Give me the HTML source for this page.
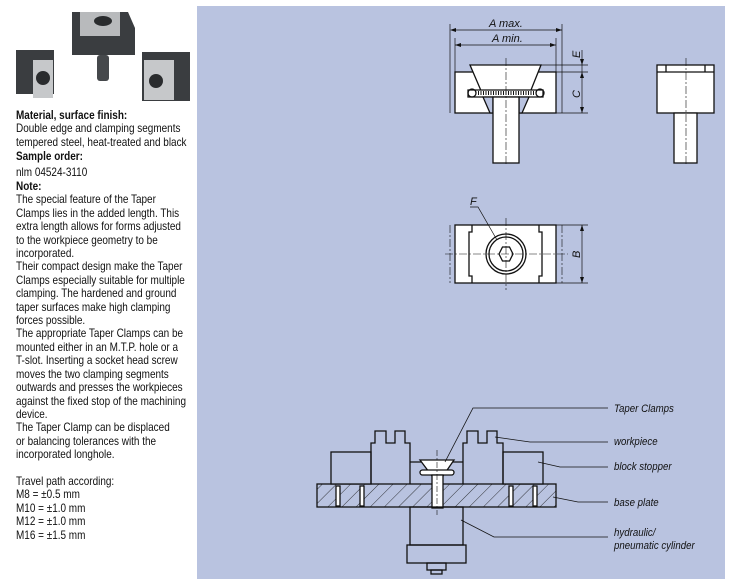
<!DOCTYPE html>
<html><head><meta charset="utf-8"><style>
body{margin:0;width:730px;height:579px;background:#fff;position:relative;overflow:hidden;font-family:"Liberation Sans",sans-serif;font-size:12px;color:#111}
.t{position:absolute;left:16px;line-height:13.4px;white-space:nowrap;transform:scaleX(0.83);transform-origin:0 0}
b{font-weight:bold}
#panel{position:absolute;left:197px;top:6px;width:528px;height:573px;background:#b9c3e0}
svg{position:absolute;left:0;top:0}
</style></head><body>
<div id="panel"></div>
<svg width="730" height="579" viewBox="0 0 730 579">
<g>
<polygon points="72,12 128,12 135,28 135,55 72,55" fill="#3a3d40"/>
<rect x="80" y="12" width="40" height="24" fill="#b8babc"/>
<ellipse cx="103" cy="21" rx="9" ry="5" fill="#2a2c2e"/>
<rect x="97" y="55" width="12" height="26" rx="3" fill="#45484b"/>
<rect x="16" y="50" width="38" height="44" fill="#3a3d40"/>
<rect x="33" y="60" width="20" height="38" fill="#c6c8ca"/>
<circle cx="43" cy="78" r="7" fill="#2a2c2e"/>
<rect x="142" y="52" width="48" height="49" fill="#3a3d40"/>
<rect x="144" y="60" width="30" height="40" fill="#c6c8ca"/>
<circle cx="156" cy="81" r="7" fill="#2a2c2e"/>
</g>
<g fill="none" stroke="#111" stroke-width="1.3">
<rect x="455" y="72" width="101" height="41" fill="#fff"/>
<polygon points="470,65 541,65 527,100 485,100" fill="#fff"/>
<polygon points="468,90 543,90 543,97 468,97" fill="#fff"/>
<circle cx="472" cy="93" r="4"/><circle cx="540" cy="93" r="4"/>
<line x1="478" y1="93" x2="534" y2="93" stroke-dasharray="1,1.5" stroke-width="4"/>
<polygon points="483,97 490,113 493,113 493,97" fill="#b9c3e0"/>
<polygon points="529,97 522,113 519,113 519,97" fill="#b9c3e0"/>
<rect x="493" y="97" width="26" height="66" fill="#fff"/>
<line x1="455" y1="30" x2="562" y2="30" stroke-width="0.8"/>
<line x1="455" y1="45" x2="556" y2="45" stroke-width="0.8"/>
<line x1="450" y1="24" x2="450" y2="113" stroke-width="0.7"/>
<line x1="562" y1="24" x2="562" y2="113" stroke-width="0.7"/>
<line x1="455" y1="38" x2="455" y2="72" stroke-width="0.7"/>
<line x1="556" y1="38" x2="556" y2="72" stroke-width="0.7"/>
<line x1="541" y1="65" x2="588" y2="65" stroke-width="0.7"/>
<line x1="556" y1="72" x2="588" y2="72" stroke-width="0.7"/>
<line x1="556" y1="113" x2="588" y2="113" stroke-width="0.7"/>
<line x1="582" y1="50" x2="582" y2="113" stroke-width="0.7"/>
<line x1="506" y1="58" x2="506" y2="165" stroke-width="0.6" stroke-dasharray="8,2,2,2"/>
<rect x="657" y="65" width="57" height="48" fill="#fff"/>
<line x1="657" y1="72" x2="714" y2="72"/>
<line x1="666" y1="65" x2="666" y2="72"/><line x1="705" y1="65" x2="705" y2="72"/>
<rect x="674" y="113" width="23" height="50" fill="#fff"/>
<line x1="686" y1="58" x2="686" y2="165" stroke-width="0.6" stroke-dasharray="8,2,2,2"/>
<rect x="455" y="225" width="101" height="58" fill="#fff"/>
<polyline points="472,225 472,232 469,232 469,276 472,276 472,283"/>
<polyline points="539,225 539,232 542,232 542,276 539,276 539,283"/>
<circle cx="506" cy="254" r="20"/><circle cx="506" cy="254" r="17"/>
<polygon points="499,254 502.5,247 509.5,247 513,254 509.5,261 502.5,261"/>
<line x1="445" y1="254" x2="568" y2="254" stroke-width="0.6" stroke-dasharray="8,2,2,2"/>
<line x1="506" y1="218" x2="506" y2="290" stroke-width="0.6" stroke-dasharray="8,2,2,2"/>
<line x1="450" y1="225" x2="450" y2="283" stroke-width="0.6" stroke-dasharray="8,2,2,2"/>
<line x1="562" y1="225" x2="562" y2="283" stroke-width="0.6" stroke-dasharray="8,2,2,2"/>
<line x1="556" y1="225" x2="588" y2="225" stroke-width="0.7"/>
<line x1="556" y1="283" x2="588" y2="283" stroke-width="0.7"/>
<line x1="582" y1="225" x2="582" y2="283" stroke-width="0.7"/>
<polyline points="470,207 478,207 497,240" stroke-width="0.7"/>
<defs><pattern id="h" width="10" height="10" patternUnits="userSpaceOnUse" patternTransform="rotate(45)"><line x1="0" y1="0" x2="0" y2="10" stroke="#111" stroke-width="0.8"/></pattern></defs>
<rect x="317" y="484" width="239" height="23" fill="url(#h)"/>
<rect x="331" y="452" width="40" height="32" fill="#b9c3e0"/>
<rect x="503" y="452" width="40" height="32" fill="#b9c3e0"/>
<polyline points="371,484 371,443 375,443 375,431 386,431 386,443 395,443 395,431 405,431 405,443 410,443 410,484"/>
<polyline points="463,484 463,443 467,443 467,431 478,431 478,443 487,443 487,431 497,431 497,443 503,443 503,484"/>
<polyline points="410,462 463,462"/>
<polygon points="420,460 454,460 443,476 432,476" fill="#fff"/>
<rect x="420" y="470" width="34" height="5" rx="2.5" fill="#fff"/>
<rect x="432" y="475" width="11" height="33" fill="#fff"/>
<rect x="410" y="507" width="53" height="38"/>
<rect x="407" y="545" width="59" height="18"/>
<rect x="427" y="563" width="19" height="7"/><rect x="431" y="570" width="11" height="4"/>
<line x1="437" y1="450" x2="437" y2="515" stroke-width="0.6" stroke-dasharray="6,2,2,2"/>
<g fill="#fff"><rect x="336" y="486" width="4" height="20"/><rect x="360" y="486" width="4" height="20"/><rect x="509" y="486" width="4" height="20"/><rect x="533" y="486" width="4" height="20"/></g>
<g stroke-width="0.8"><polyline points="445,462 473,408 608,408"/><polyline points="495,437 530,442 608,442"/><polyline points="538,462 560,467 608,467"/><polyline points="553,497 578,502 608,502"/><polyline points="461,520 494,537 608,537"/></g>
</g>
<g fill="#111" font-family="Liberation Sans,sans-serif" font-style="italic" font-size="11">
<polygon points="450,30 456,28 456,32"/><polygon points="562,30 556,28 556,32"/>
<polygon points="455,45 461,43 461,47"/><polygon points="556,45 550,43 550,47"/>
<polygon points="582,65 580,59 584,59"/><polygon points="582,72 580,78 584,78"/><polygon points="582,113 580,107 584,107"/>
<polygon points="582,225 580,231 584,231"/><polygon points="582,283 580,277 584,277"/>
<text x="489" y="27">A max.</text><text x="492" y="42">A min.</text>
<text transform="translate(580,58) rotate(-90)">E</text>
<text transform="translate(580,98) rotate(-90)">C</text>
<text transform="translate(580,258) rotate(-90)">B</text>
<text x="470" y="205">F</text>
<g transform="translate(614,0) scale(0.88,1)">
<text x="0" y="412">Taper Clamps</text><text x="0" y="445">workpiece</text><text x="0" y="470">block stopper</text><text x="0" y="506">base plate</text><text x="0" y="536">hydraulic/</text><text x="0" y="549">pneumatic cylinder</text></g>
</g>
</svg>
<div class="t" style="top:109px"><b>Material, surface finish:</b><br>Double edge and clamping segments<br>tempered steel, heat-treated and black</div>
<div class="t" style="top:150px"><b>Sample order:</b></div>
<div class="t" style="top:166px">nlm 04524-3110</div>
<div class="t" style="top:180px"><b>Note:</b><br>The special feature of the Taper<br>Clamps lies in the added length. This<br>extra length allows for forms adjusted<br>to the workpiece geometry to be<br>incorporated.<br>Their compact design make the Taper<br>Clamps especially suitable for multiple<br>clamping. The hardened and ground<br>taper surfaces make high clamping<br>forces possible.<br>The appropriate Taper Clamps can be<br>mounted either in an M.T.P. hole or a<br>T-slot. Inserting a socket head screw<br>moves the two clamping segments<br>outwards and presses the workpieces<br>against the fixed stop of the machining<br>device.<br>The Taper Clamp can be displaced<br>or balancing tolerances with the<br>incorporated longhole.<br><br>Travel path according:<br>M8 = ±0.5 mm<br>M10 = ±1.0 mm<br>M12 = ±1.0 mm<br>M16 = ±1.5 mm</div>
</body></html>
